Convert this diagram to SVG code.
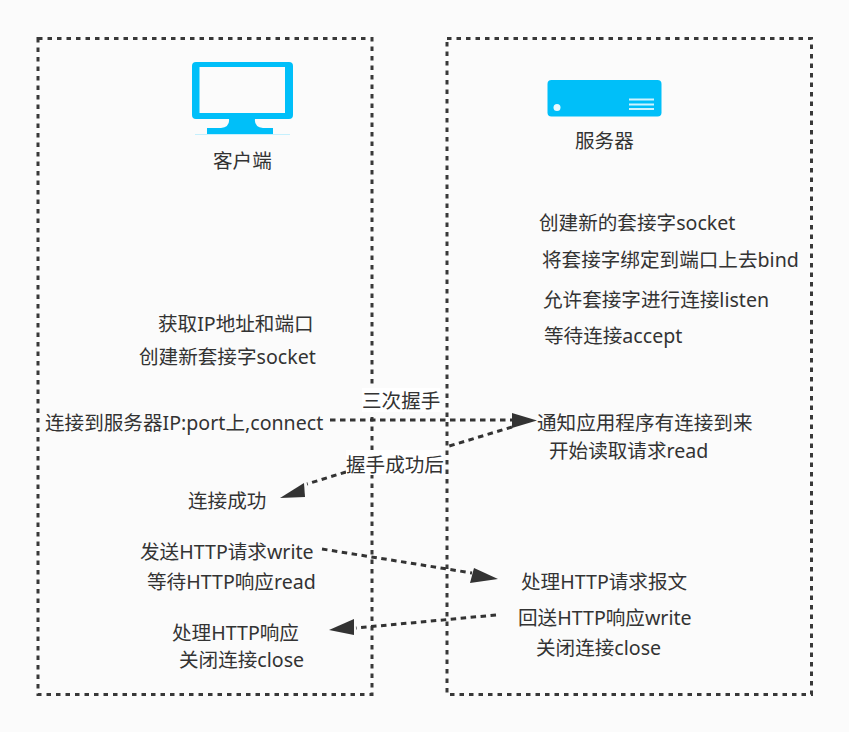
<svg xmlns="http://www.w3.org/2000/svg" width="849" height="732" viewBox="0 0 849 732">
<style>
.box{fill:none;stroke:#383838;stroke-width:3;stroke-dasharray:4.5 5}
.c{fill:none;stroke:#333;stroke-width:3;stroke-dasharray:5.500 4.500}
.a{fill:#333}
.ic{fill:#00bff9}
text{font-family:"Noto Sans","Noto Sans CJK SC",sans-serif;font-size:19.6px;fill:#333}
.lb{fill:#fff}
</style>
<rect width="849" height="732" fill="#fbfbfb"/>
<g id="client-box"><rect class="box" x="38" y="38.500" width="334" height="656"/></g>
<g id="server-box"><rect class="box" x="447" y="38.500" width="364.500" height="656"/></g>
<g id="client-icon">
<path class="ic" fill-rule="evenodd" d="M196 62H289Q293 62 293 66V115Q293 119 289 119H255Q254 127 263 128H273V134.500H207V128H221Q230 127 229 119H196Q192 119 192 115V66Q192 62 196 62ZM199.500 67V113H285V67Z"/>
<path d="M195 134.500H290" stroke="#c5f0fd" stroke-width="1"/>
<text x="213" y="168">客户端</text>
</g>
<g id="server-icon">
<rect class="ic" x="547.500" y="80" width="114" height="36.500" rx="4"/>
<circle cx="557" cy="107.500" r="3.500" fill="#e8f9ff"/>
<path d="M629 99.500H654M629 104.500H654M629 109H654" stroke="#cdf3ff" stroke-width="2.200"/>
<text x="575" y="148">服务器</text>
</g>
<g id="connectors">
<path class="c" d="M330 420H512"/>
<polygon class="a" points="512,413 537,420.500 512,428"/>
<path class="c" d="M512 427L446 447M346 472L307 484"/>
<polygon class="a" points="304,483 280,498 305,497"/>
<path class="c" d="M322 549L472 573"/>
<polygon class="a" points="474,568 498,579 470,583"/>
<path class="c" d="M496 615L356 628"/>
<polygon class="a" points="354,619 329,630 354,635"/>
</g>
<g id="label-handshake"><rect class="lb" x="362" y="388" width="78" height="24"/><text x="362" y="408">三次握手</text></g>
<g id="label-after"><rect class="lb" x="346" y="450" width="97" height="25"/><text x="346" y="472">握手成功后</text></g>
<g id="client-steps">
<text x="158" y="331">获取IP地址和端口</text>
<text x="139" y="364">创建新套接字socket</text>
<text x="45" y="430">连接到服务器IP:port上,connect</text>
<text x="188" y="508">连接成功</text>
<text x="140" y="559">发送HTTP请求write</text>
<text x="147" y="589">等待HTTP响应read</text>
<text x="172" y="640">处理HTTP响应</text>
<text x="179" y="667">关闭连接close</text>
</g>
<g id="server-steps">
<text x="539" y="230">创建新的套接字socket</text>
<text x="542" y="267">将套接字绑定到端口上去bind</text>
<text x="543" y="307">允许套接字进行连接listen</text>
<text x="544" y="343">等待连接accept</text>
<text x="537" y="430">通知应用程序有连接到来</text>
<text x="549" y="458">开始读取请求read</text>
<text x="521" y="589">处理HTTP请求报文</text>
<text x="518" y="625">回送HTTP响应write</text>
<text x="536" y="655">关闭连接close</text>
</g>
</svg>
